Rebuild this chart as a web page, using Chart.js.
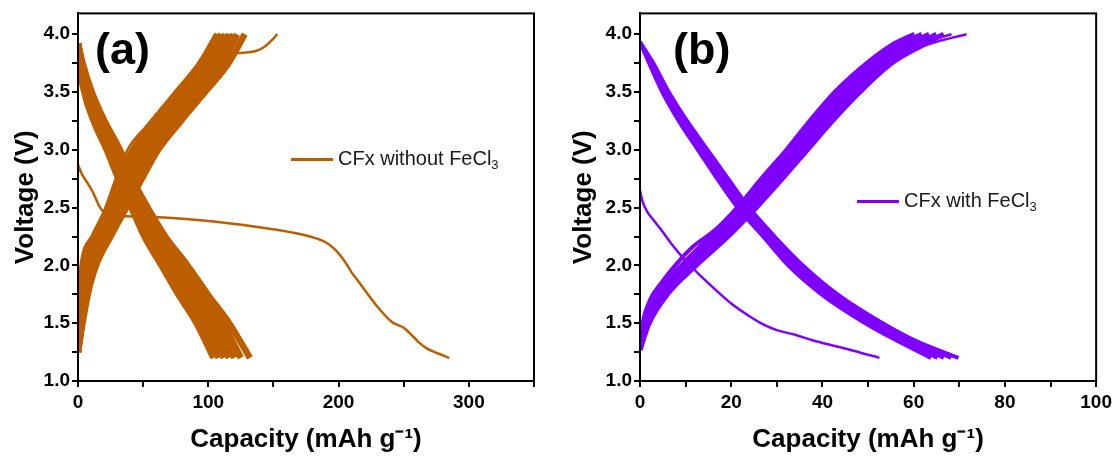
<!DOCTYPE html>
<html>
<head>
<meta charset="utf-8">
<script src="https://cdn.jsdelivr.net/npm/chart.js@4.4.1/dist/chart.umd.min.js"></script>
<style>
  body { margin: 0; background: #fff; }
  #wrap { position: relative; width: 1116px; height: 457px; }
  canvas { position: absolute; top: 0; }
  #chartA { left: 0; }
  #chartB { left: 558px; }
</style>
</head>
<body>
<div id="wrap">
  <canvas id="chartA" width="558" height="457"></canvas>
  <canvas id="chartB" width="558" height="457"></canvas>
</div>
<script>
// ---- axis ticks ----
const voltTicks = [1.0, 1.25, 1.5, 1.75, 2.0, 2.25, 2.5, 2.75, 3.0, 3.25, 3.5, 3.75, 4.0];
const voltLabels = ['1.0', '', '1.5', '', '2.0', '', '2.5', '', '3.0', '', '3.5', '', '4.0'];
const capTicksA = [0, 50, 100, 150, 200, 250, 300, 350];
const capLabelsA = ['0', '', '100', '', '200', '', '300', ''];
const capTicksB = [0, 10, 20, 30, 40, 50, 60, 70, 80, 90, 100];
const capLabelsB = ['0', '', '20', '', '40', '', '60', '', '80', '', '100'];

// ---- panel (a): CFx without FeCl3 ----
// first discharge (long plateau)
const firstDisCapA  = [0, 3, 8, 12, 16, 19, 23, 30, 55, 104, 151, 178, 190, 197, 205, 210, 216, 230, 241, 250, 255, 262, 268, 276, 285];
const firstDisVoltA = [2.87, 2.79, 2.70, 2.62, 2.52, 2.47, 2.44, 2.43, 2.42, 2.38, 2.31, 2.25, 2.20, 2.14, 2.03, 1.94, 1.85, 1.64, 1.51, 1.46, 1.41, 1.33, 1.28, 1.24, 1.20];
// first charge (bump at 3.84 V)
const firstChgCapA  = [0, 0.8, 2, 5, 12, 21, 29, 38, 52, 66, 82, 98, 110, 118, 127, 135, 143, 149, 153];
const firstChgVoltA = [1.30, 1.60, 1.85, 2.05, 2.25, 2.50, 2.75, 3.00, 3.20, 3.38, 3.55, 3.70, 3.78, 3.83, 3.84, 3.85, 3.89, 3.95, 4.00];
// later discharge cycles
const disVoltA = [3.92, 3.75, 3.5, 3.25, 3.0, 2.75, 2.5, 2.25, 2.0, 1.75, 1.5, 1.2];
const disCapA = [
  [0, 1.0, 4.8, 12.0, 22.0, 31.0, 41.0, 51.0, 64.0, 77.0, 91.0, 104],
  [0, 1.4, 5.9, 13.5, 23.8, 32.8, 43.0, 53.8, 67.5, 81.0, 95.0, 108],
  [0, 1.8, 7.0, 15.0, 25.6, 34.6, 45.2, 56.6, 71.0, 84.8, 99.0, 112],
  [0, 2.3, 8.0, 16.5, 27.4, 36.4, 47.4, 59.4, 74.5, 88.6, 103.0, 116],
  [0, 2.7, 9.0, 18.0, 29.2, 38.2, 49.6, 62.2, 78.0, 92.4, 107.0, 120],
  [0, 3.1, 9.8, 19.2, 30.8, 39.8, 51.6, 64.6, 81.0, 95.8, 111.0, 125],
  [0, 3.5, 10.6, 20.3, 32.2, 41.5, 53.5, 67.0, 84.0, 99.5, 116.0, 132]
];
// later charge cycles
const chgVoltA = [1.25, 1.5, 1.75, 2.0, 2.25, 2.5, 2.75, 3.0, 3.25, 3.5, 3.75, 4.0];
const chgCapA = [
  [0, 0.5, 1.5, 3.5, 12.0, 23.0, 31.0, 42.0, 58.0, 76.0, 94.0, 107],
  [0, 1.0, 2.5, 5.5, 14.2, 25.4, 34.0, 45.2, 61.5, 79.5, 97.5, 110],
  [0, 1.5, 3.6, 7.5, 16.5, 27.8, 37.0, 48.4, 65.0, 83.0, 101.0, 113],
  [0, 2.0, 4.8, 9.5, 18.8, 30.2, 40.0, 51.6, 68.5, 86.5, 104.5, 116],
  [0, 2.5, 5.9, 11.2, 21.0, 32.6, 43.0, 54.8, 72.0, 90.0, 108.0, 119],
  [0, 3.0, 6.8, 12.6, 23.2, 35.0, 46.0, 58.0, 75.5, 93.5, 111.0, 122],
  [0, 3.5, 7.5, 13.8, 25.0, 37.0, 49.0, 61.5, 79.0, 97.5, 115.5, 128]
];

// ---- panel (b): CFx with FeCl3 ----
const firstDisCapB  = [0, 0.5, 1.5, 3, 5, 7, 10, 13, 16, 20, 24, 27, 30, 34, 38, 42, 47, 52.5];
const firstDisVoltB = [2.65, 2.56, 2.47, 2.39, 2.29, 2.18, 2.04, 1.92, 1.81, 1.67, 1.56, 1.49, 1.44, 1.40, 1.35, 1.31, 1.26, 1.20];
// two early charge cycles that start higher
const earlyChgVoltB1 = [1.37, 1.5, 1.7, 1.85, 2.0, 2.15, 2.3, 2.5, 2.75, 3.0, 3.25, 3.5, 3.72, 3.85, 3.94, 4.0];
const earlyChgCapB1  = [0, 0.5, 2, 4.5, 7.5, 11, 16, 21.5, 27, 32.5, 38, 44, 51, 57, 63, 68.3];
const earlyChgVoltB2 = [1.33, 1.5, 1.7, 1.85, 2.0, 2.15, 2.3, 2.5, 2.75, 3.0, 3.25, 3.5, 3.72, 3.85, 3.94, 4.0];
const earlyChgCapB2  = [0.3, 0.8, 2.5, 5, 8, 11.5, 16.5, 22, 27.5, 33, 38.8, 45, 52.5, 59, 65.5, 71.6];
const disVoltB = [3.93, 3.75, 3.5, 3.25, 3.0, 2.75, 2.5, 2.25, 2.0, 1.75, 1.5, 1.35, 1.2];
const disCapB = [
  [0, 2.0, 4.9, 8.5, 12.7, 16.9, 21.4, 27.0, 32.5, 39.8, 49.4, 56.3, 63.8],
  [0, 2.2, 5.3, 9.0, 13.3, 17.6, 22.1, 27.7, 33.4, 40.8, 50.4, 57.4, 65.2],
  [0, 2.5, 5.7, 9.6, 13.9, 18.3, 22.8, 28.4, 34.3, 41.8, 51.4, 58.5, 66.6],
  [0, 2.7, 6.0, 10.0, 14.4, 18.9, 23.4, 29.0, 35.1, 42.6, 52.4, 59.5, 68.2],
  [0, 2.9, 6.3, 10.3, 14.8, 19.3, 23.9, 29.5, 35.7, 43.3, 53.2, 60.3, 69.8]
];
const chgVoltB = [1.27, 1.5, 1.75, 2.0, 2.25, 2.5, 2.75, 3.0, 3.25, 3.5, 3.75, 3.9, 4.0];
const chgCapB = [
  [0, 0.7, 3.6, 9.2, 15.4, 21.4, 26.7, 32.2, 37.3, 42.8, 49.8, 55.0, 60.2],
  [0, 1.0, 4.2, 10.0, 16.4, 22.4, 27.8, 33.4, 38.6, 44.2, 51.2, 56.8, 61.8],
  [0, 1.4, 4.8, 10.8, 17.4, 23.4, 28.9, 34.5, 39.8, 45.6, 52.6, 58.5, 63.4],
  [0, 1.7, 5.4, 11.6, 18.4, 24.4, 30.0, 35.6, 41.0, 47.0, 54.0, 60.2, 65.0],
  [0, 2.0, 6.0, 12.3, 19.3, 25.5, 31.2, 36.7, 42.2, 48.2, 55.2, 61.7, 66.6]
];

const FONT = "'Liberation Sans', Arial, sans-serif";
const ORANGE = '#bc5e00';
const PURPLE = '#8000ff';

function toPoints(caps, volts) {
  return caps.map((c, i) => ({ x: c, y: volts[i] }));
}

function line(caps, volts, color, width) {
  return {
    data: toPoints(caps, volts),
    borderColor: color,
    borderWidth: width,
    showLine: true,
    pointRadius: 0,
    cubicInterpolationMode: 'monotone',
    fill: false
  };
}

// frame, panel tag and the little legend
const decorPlugin = {
  id: 'decor',
  afterDraw(chart, args, o) {
    const { ctx, chartArea: a } = chart;
    ctx.save();
    ctx.strokeStyle = '#000';
    ctx.lineWidth = 2;
    ctx.strokeRect(a.left, a.top, a.right - a.left, a.bottom - a.top);

    ctx.fillStyle = '#000';
    ctx.font = 'bold 45px ' + FONT;
    ctx.textAlign = 'left';
    ctx.textBaseline = 'alphabetic';
    ctx.fillText(o.tag, a.left + o.tagDx, a.top + o.tagDy);

    const lx = a.left + o.legDx, ly = a.top + o.legDy;
    ctx.strokeStyle = o.color;
    ctx.lineWidth = 3;
    ctx.beginPath();
    ctx.moveTo(lx, ly);
    ctx.lineTo(lx + 42, ly);
    ctx.stroke();
    ctx.fillStyle = '#1a1a1a';
    ctx.font = '20px ' + FONT;
    ctx.textBaseline = 'middle';
    let tx = lx + 47;
    ctx.fillText(o.legend, tx, ly);
    tx += ctx.measureText(o.legend).width;
    ctx.font = '13px ' + FONT;
    ctx.fillText(o.sub, tx, ly + 6);
    ctx.restore();
  }
};

function makeChart(id, datasets, capMax, capTicks, capLabels, yWidth, padRight, decor) {
  const tickFont = { family: FONT, size: 19, weight: 'bold' };
  const titleFont = { family: FONT, size: 26, weight: 'bold' };
  const tickGrid = { drawOnChartArea: false, drawTicks: true, tickLength: 6, color: '#000', lineWidth: 2 };
  return new Chart(document.getElementById(id), {
    type: 'scatter',
    data: { datasets: datasets },
    plugins: [decorPlugin],
    options: {
      responsive: false,
      animation: false,
      layout: { padding: { top: 13, right: padRight, left: 0, bottom: 0 } },
      plugins: { legend: { display: false }, tooltip: { enabled: false }, decor: decor },
      scales: {
        x: {
          type: 'linear', min: 0, max: capMax,
          afterBuildTicks: s => { s.ticks = capTicks.map(v => ({ value: v })); },
          afterFit: s => { s.height = 76; },
          ticks: { callback: (v, i) => capLabels[i], font: tickFont, color: '#000', padding: 4, maxRotation: 0, autoSkip: false },
          grid: tickGrid,
          border: { display: true, color: '#000', width: 2 },
          title: { display: true, text: 'Capacity (mAh g\u207B\u00B9)', font: titleFont, color: '#000', padding: { top: 0, bottom: 2 } }
        },
        y: {
          type: 'linear', min: 1.0, max: 4.18,
          afterBuildTicks: s => { s.ticks = voltTicks.map(v => ({ value: v })); },
          afterFit: s => { s.width = yWidth; },
          ticks: { callback: (v, i) => voltLabels[i], font: tickFont, color: '#000', padding: 2, autoSkip: false },
          grid: tickGrid,
          border: { display: true, color: '#000', width: 2 },
          title: { display: true, text: 'Voltage (V)', font: titleFont, color: '#000', padding: { top: 10, bottom: 0 } }
        }
      }
    }
  });
}

// panel (a)
const setsA = [];
disCapA.forEach(row => setsA.push(line(row, disVoltA, ORANGE, 6.5)));
chgCapA.forEach(row => setsA.push(line(row, chgVoltA, ORANGE, 6.5)));
setsA.push(line(firstChgCapA, firstChgVoltA, ORANGE, 2.5));
setsA.push(line(firstDisCapA, firstDisVoltA, ORANGE, 2.5));

makeChart('chartA', setsA, 350, capTicksA, capLabelsA, 78, 24, {
  tag: '(a)', tagDx: 17, tagDy: 51,
  legend: 'CFx without FeCl', sub: '3', color: ORANGE, legDx: 213, legDy: 146
});

// panel (b)
const setsB = [];
disCapB.forEach(row => setsB.push(line(row, disVoltB, PURPLE, 4)));
chgCapB.forEach(row => setsB.push(line(row, chgVoltB, PURPLE, 5)));
setsB.push(line(earlyChgCapB1, earlyChgVoltB1, PURPLE, 2.5));
setsB.push(line(earlyChgCapB2, earlyChgVoltB2, PURPLE, 2.5));
setsB.push(line(firstDisCapB, firstDisVoltB, PURPLE, 2.5));

makeChart('chartB', setsB, 100, capTicksB, capLabelsB, 82, 19, {
  tag: '(b)', tagDx: 33, tagDy: 51,
  legend: 'CFx with FeCl', sub: '3', color: PURPLE, legDx: 217, legDy: 188
});
</script>
</body>
</html>
